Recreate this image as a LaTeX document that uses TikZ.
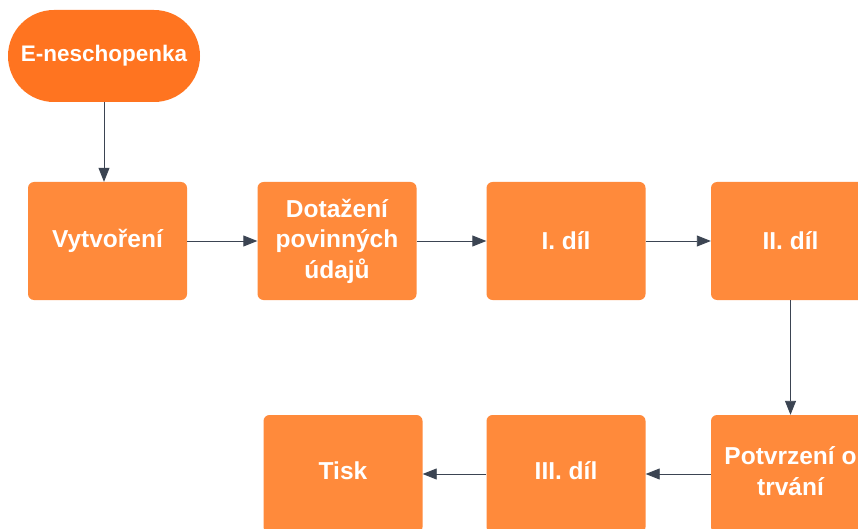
\documentclass[tikz,border=0pt]{standalone}
\usepackage{fontspec}
\setmainfont{Liberation Sans}
\usetikzlibrary{arrows.meta}
\definecolor{boxorange}{HTML}{FF8A3B}
\definecolor{pillorange}{HTML}{FF7420}
\definecolor{linkgray}{HTML}{3B4452}
\tikzset{
  stepbox/.style={fill=boxorange, rounded corners=6pt, minimum width=159pt,
    minimum height=118pt, inner sep=0pt, text=white, align=center,
    font=\bfseries\fontsize{24.5}{30.5}\selectfont},
  lowbox/.style={stepbox, text depth=6pt},
  startpill/.style={fill=pillorange, rounded corners=46pt, minimum width=192pt,
    minimum height=92pt, inner sep=0pt, text=white,
    font=\bfseries\fontsize{22.5}{30}\selectfont},
  link/.style={draw=linkgray, line width=0.9pt,
    -{Triangle[length=14pt,width=11pt]}}
}
\begin{document}
\begin{tikzpicture}[x=1pt,y=-1pt]
\useasboundingbox (0,0) rectangle (858,529);
\fill[white] (0,0) rectangle (858,529);
\node[startpill] (start) at (104,56) {E-neschopenka};
\node[stepbox] (vytv) at (107.5,241) {Vytvoření};
\node[stepbox] (dotaz) at (337,241) {Dotažení\\povinných\\údajů};
\node[stepbox] (dil1) at (566,241) {I. díl};
\node[stepbox] (dil2) at (790.5,241) {II. díl};
\node[lowbox] (potvr) at (790.5,474) {Potvrzení o\\trvání};
\node[lowbox] (dil3) at (566,474) {III. díl};
\node[lowbox] (tisk) at (343,474) {Tisk};
\draw[link] (start) -- (start |- vytv.north);
\draw[link] (vytv) -- (dotaz);
\draw[link] (dotaz) -- (dil1);
\draw[link] (dil1) -- (dil2);
\draw[link] (dil2) -- (potvr);
\draw[link] (potvr) -- (dil3);
\draw[link] (dil3) -- (tisk);
\end{tikzpicture}
\end{document}
